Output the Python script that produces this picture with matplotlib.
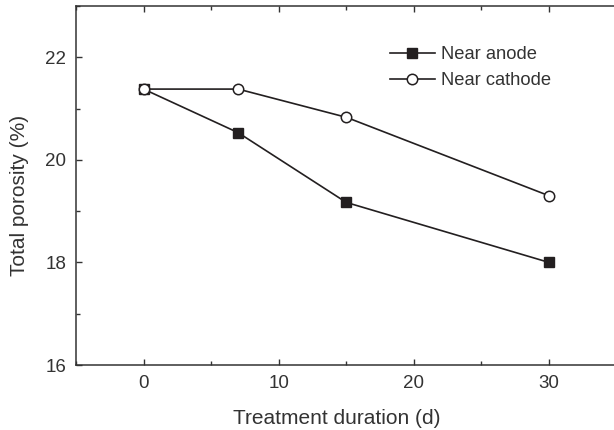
import matplotlib
matplotlib.use("Agg")
import matplotlib.pyplot as plt
from matplotlib.ticker import MultipleLocator

plt.rcParams['font.family'] = ['Liberation Sans', 'DejaVu Sans']

days = [0, 7, 15, 30]
near_anode = [21.38, 20.53, 19.17, 18.0]
near_cathode = [21.38, 21.38, 20.83, 19.30]
labels = ['Near anode', 'Near cathode']
xticks = [0, 10, 20, 30]
yticks = [16, 18, 20, 22]

W, H = 614, 430
fig = plt.figure(figsize=(W / 100, H / 100), dpi=100)
left, right, top, bottom = 76, 616.6, 6, 365
ax = fig.add_axes([left / W, 1 - bottom / H, (right - left) / W, (bottom - top) / H])

col = '#231f20'
ax.plot(days, near_anode, '-s', color=col, lw=1.2, ms=6.5, mfc=col, mec=col,
        label=labels[0], zorder=3)
ax.plot(days, near_cathode, '-o', color=col, lw=1.2, ms=7.5, mfc='white', mec=col,
        mew=1.1, label=labels[1], zorder=4)

ax.set_xlim(-5, 35)
ax.set_ylim(16, 23)
ax.set_xticks(xticks)
ax.set_yticks(yticks)
ax.xaxis.set_minor_locator(MultipleLocator(5))
ax.yaxis.set_minor_locator(MultipleLocator(1))
ax.tick_params(which='both', direction='in', top=True, right=False, colors='#333333',
               labelsize=13.5, width=1.0, labelcolor='#333333')
ax.tick_params(which='major', length=4.2, pad=7)
ax.tick_params(which='minor', length=2.8)
for s in ax.spines.values():
    s.set_linewidth(1.1)
    s.set_color('#333333')

ax.set_xlabel('Treatment duration (d)', fontsize=15, color='#333333')
ax.set_ylabel('Total porosity (%)', fontsize=15, color='#333333')
# label positions in axes fraction
ax.xaxis.set_label_coords((337 - left) / (right - left), -(424 - bottom) / (bottom - top),
                          transform=ax.transAxes)
ax.xaxis.label.set_va('baseline')
ax.yaxis.set_label_coords(-(76 - 19.5) / (right - left), (bottom - 195.5) / (bottom - top),
                          transform=ax.transAxes)
ax.yaxis.label.set_va('center')

leg = ax.legend(loc='upper left', bbox_to_anchor=(390 / W, 1 - 46 / H),
                bbox_transform=fig.transFigure, frameon=False, fontsize=13.2,
                handlelength=2.45, handletextpad=0.33, labelspacing=0.5,
                borderpad=0, borderaxespad=0)
for t in leg.get_texts():
    t.set_color('#333333')

fig.savefig('out.png', dpi=100)
